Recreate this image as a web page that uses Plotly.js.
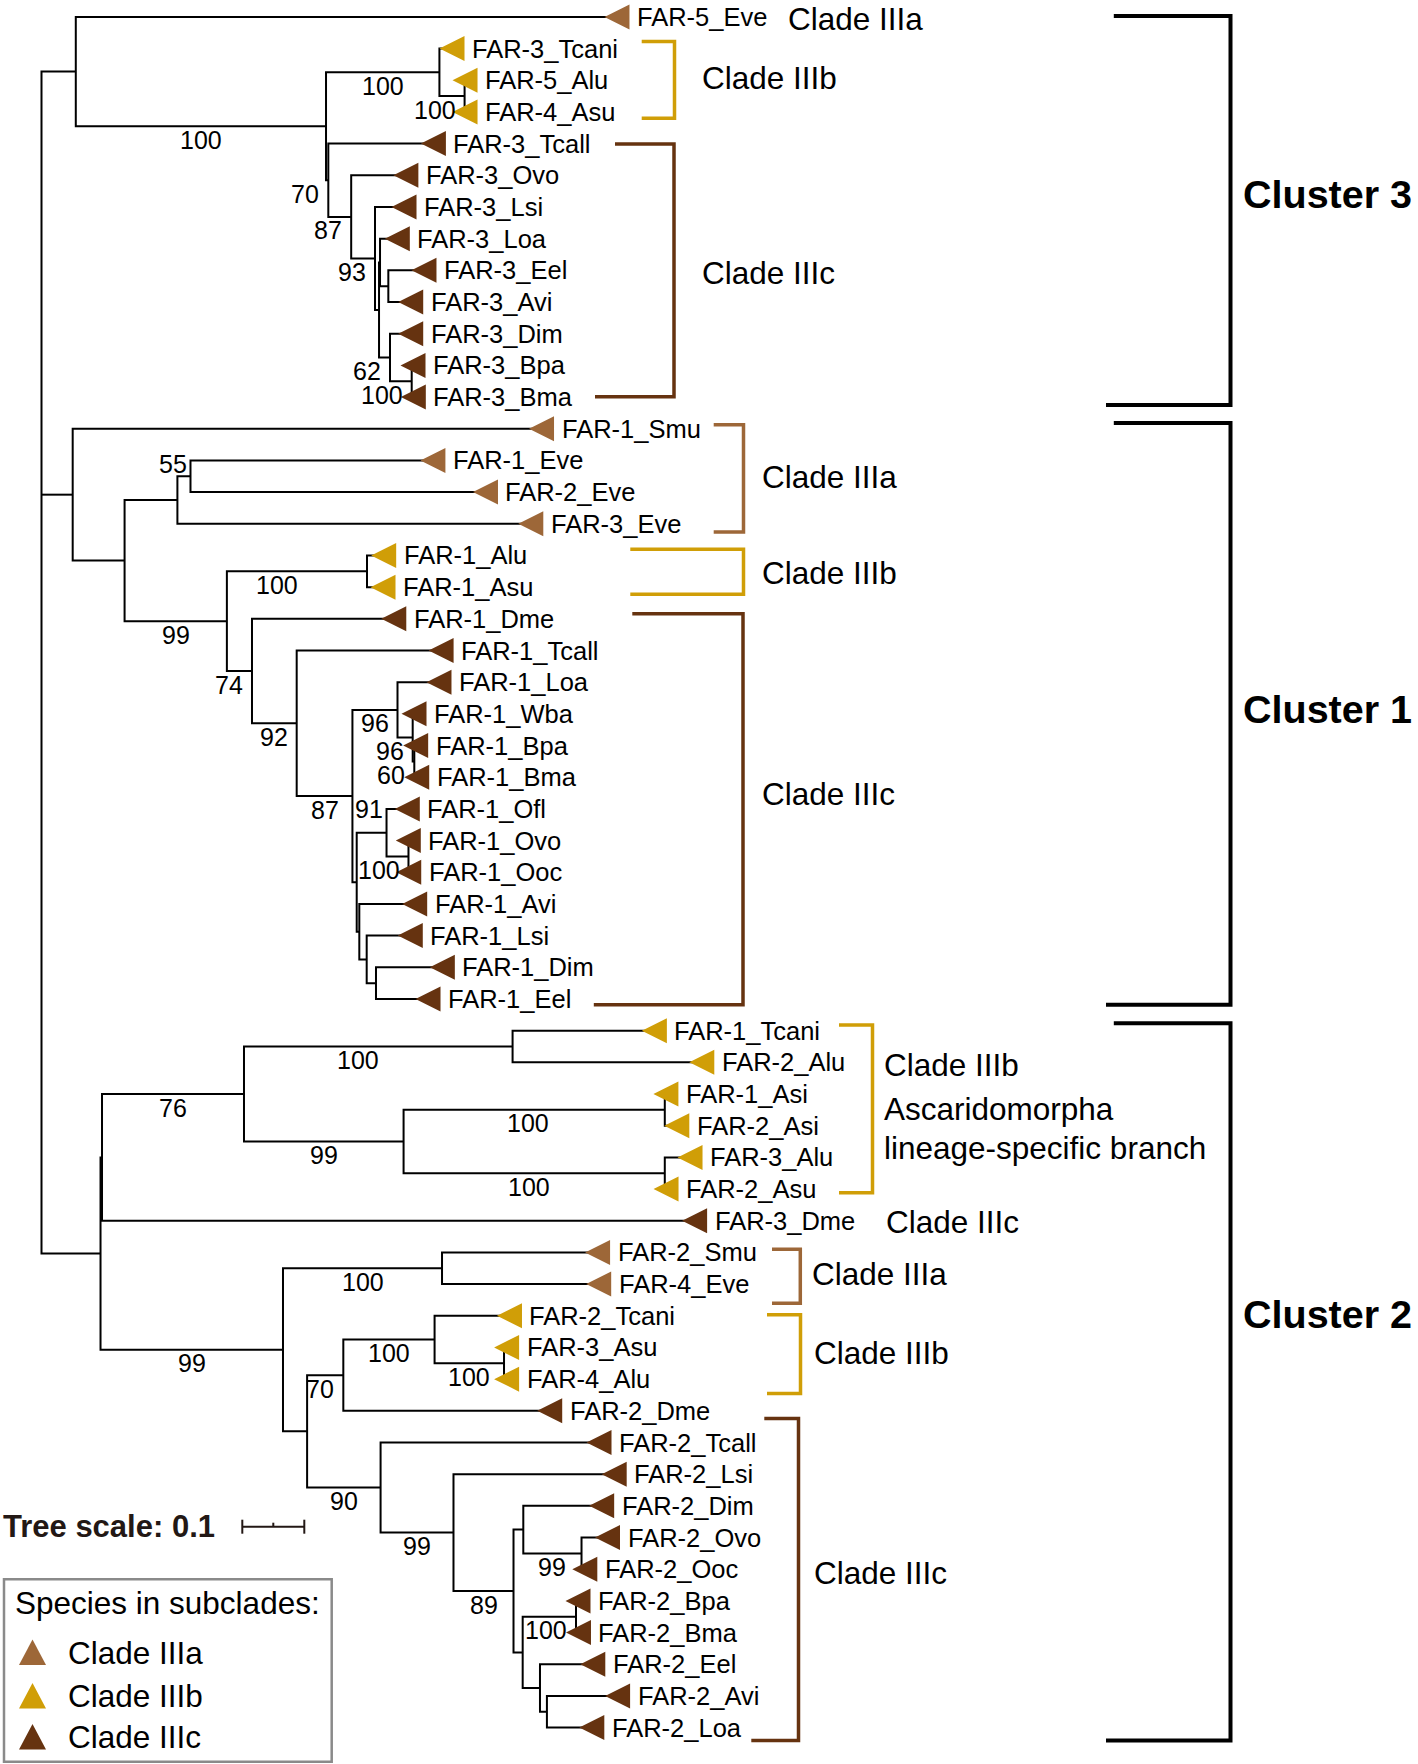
<!DOCTYPE html>
<html>
<head>
<meta charset="utf-8">
<script src="https://cdn.plot.ly/plotly-3.0.1.min.js"></script>
<style>
html,body{margin:0;padding:0;background:#fff;}
#chart{width:1418px;height:1764px;}
</style>
</head>
<body>
<div id="chart"></div>
<script>
// ===================== DATA =====================
// Leaves, top to bottom (row order of the tree)
const leafNames = ['FAR-5_Eve','FAR-3_Tcani','FAR-5_Alu','FAR-4_Asu','FAR-3_Tcall','FAR-3_Ovo','FAR-3_Lsi','FAR-3_Loa','FAR-3_Eel','FAR-3_Avi','FAR-3_Dim','FAR-3_Bpa','FAR-3_Bma',
  'FAR-1_Smu','FAR-1_Eve','FAR-2_Eve','FAR-3_Eve','FAR-1_Alu','FAR-1_Asu','FAR-1_Dme','FAR-1_Tcall','FAR-1_Loa','FAR-1_Wba','FAR-1_Bpa','FAR-1_Bma','FAR-1_Ofl','FAR-1_Ovo','FAR-1_Ooc','FAR-1_Avi','FAR-1_Lsi','FAR-1_Dim','FAR-1_Eel',
  'FAR-1_Tcani','FAR-2_Alu','FAR-1_Asi','FAR-2_Asi','FAR-3_Alu','FAR-2_Asu','FAR-3_Dme','FAR-2_Smu','FAR-4_Eve','FAR-2_Tcani','FAR-3_Asu','FAR-4_Alu','FAR-2_Dme','FAR-2_Tcall','FAR-2_Lsi','FAR-2_Dim','FAR-2_Ovo','FAR-2_Ooc','FAR-2_Bpa','FAR-2_Bma','FAR-2_Eel','FAR-2_Avi','FAR-2_Loa'];
// subclade of each leaf: a = IIIa, b = IIIb, c = IIIc
const leafClade = ['a','b','b','b','c','c','c','c','c','c','c','c','c',
  'a','a','a','a','b','b','c','c','c','c','c','c','c','c','c','c','c','c','c',
  'b','b','b','b','b','b','c','a','a','b','b','b','c','c','c','c','c','c','c','c','c','c','c'];
const leafParent = ['C3','B3b','E','E','B','C','D','F1','G','G','H','I','I',
  'C1','M','M','K','N','N','O','P','R','T','U','U','V','X','X','W','Z','AA','AA',
  'N100a','N100a','N100b','N100b','N100c','N100c','Y2','N100d','N100d','N100e','N100f','N100f','N70','N90','N99c','Q1','N99d','N99d','N100g','N100g','R2','AL','AL'];
// distance from root (substitutions / site)
const leafDepth = [0.9282,0.6621,0.6831,0.6831,0.6321,0.5877,0.5847,0.5739,0.6169,0.5955,0.5955,0.5992,0.5997,
  0.8065,0.6313,0.7161,0.7892,0.5519,0.5508,0.5682,0.6445,0.6411,0.6008,0.6035,0.6052,0.5900,0.5916,0.5923,0.6019,0.5948,0.6465,0.6234,
  0.9885,1.0650,1.0071,1.0247,1.0460,1.0073,1.0534,0.8969,0.8987,0.7548,0.7502,0.7502,0.8197,0.8992,0.9237,0.9035,0.9129,0.8763,0.8653,0.8661,0.8892,0.9292,0.8876];

// Internal nodes
const nodeNames = ['root','C3','A','B3b','E','B','C','D','F','F1','G','H','I',
  'C1','J','K','M','L','N','O','P','Q','R','T','U','S','V','X','W','Z','AA',
  'C2','Y2','N76','N100a','N99','N100b','N100c','D99','N100d','E90','N70','N100e','N100f','N90','N99c','N89','Q1','N99d','Q2','N100g','R2','AL'];
const nodeParent = [null,'root','C3','A','B3b','A','B','C','D','F','F1','F','H',
  'root','C1','J','K','J','L','L','O','P','Q','R','T','Q','S','V','S','W','Z',
  'root','C2','Y2','N76','N76','N99','N99','C2','D99','D99','E90','N70','N100e','E90','N90','N99c','N89','Q1','N89','Q2','Q2','R2'];
const nodeDepth = [0,0.0553,0.4589,0.6418,0.6824,0.4626,0.4995,0.5379,0.5444,0.5460,0.5594,0.5621,0.5971,
  0.0503,0.1340,0.2192,0.2403,0.2990,0.5250,0.3395,0.4116,0.5015,0.5742,0.5987,0.6013,0.5084,0.5565,0.5919,0.5126,0.5245,0.5395,
  0.0952,0.0976,0.3266,0.7598,0.5840,1.0053,1.0053,0.3895,0.6460,0.4284,0.4868,0.6340,0.7460,0.5469,0.6645,0.7613,0.7771,0.8710,0.7761,0.8621,0.8040,0.8152];
// bootstrap support
const nodeSupport = [null,null,100,100,100,70,87,93,null,null,null,62,100,
  null,null,null,55,99,100,74,92,87,96,96,60,null,91,100,null,null,null,
  null,null,76,100,99,100,100,99,100,null,70,100,100,90,99,89,null,99,null,100,null,null];

const cladeLegend = ['Clade IIIa','Clade IIIb','Clade IIIc'];
const legendTitle = 'Species in subclades:';
const treeScaleValue = 0.1;

// ===================== GEOMETRY / STYLE =====================
const W = 1418, H = 1764;
const ROOT_PX = 41.5, PX_PER_UNIT = 620, ROW0_PX = 16.9, ROW_PX = 31.68;
const X = px => (px - ROOT_PX) / PX_PER_UNIT;
const Y = py => (py - ROW0_PX) / ROW_PX;
const DX = px => px / PX_PER_UNIT;
const DY = py => py / ROW_PX;
const pxX = x => ROOT_PX + x * PX_PER_UNIT;
const pxY = y => ROW0_PX + y * ROW_PX;

const FONT = 'Liberation Sans, Arial, Helvetica, sans-serif';
const COLORS = {a:'#9D6738', b:'#D09E07', c:'#663310'};

// ---- build tree positions ----
const pos = {}, children = {};
nodeNames.forEach((n,i)=>{ pos[n] = {x:nodeDepth[i], y:null}; children[n] = []; });
leafNames.forEach((n,i)=>{ pos[n] = {x:leafDepth[i], y:i}; });
leafNames.forEach((n,i)=>children[leafParent[i]].push(n));
nodeNames.forEach((n,i)=>{ if(nodeParent[i]) children[nodeParent[i]].push(n); });
function yOf(n){
  if(pos[n].y !== null) return pos[n].y;
  const ys = children[n].map(yOf);
  pos[n].y = (Math.min(...ys)+Math.max(...ys))/2;
  return pos[n].y;
}
yOf('root');

// ---- branch lines ----
const lx = [], ly = [];
nodeNames.forEach(n=>{
  const ch = children[n].slice().sort((a,b)=>pos[a].y-pos[b].y);
  const p = pos[n], f = pos[ch[0]], l = pos[ch[ch.length-1]];
  lx.push(f.x, p.x, p.x, l.x, null); ly.push(f.y, f.y, l.y, l.y, null);
  ch.slice(1,-1).forEach(c=>{ lx.push(p.x, pos[c].x, null); ly.push(pos[c].y, pos[c].y, null); });
});
const traces = [{type:'scatter', x:lx, y:ly, mode:'lines', line:{color:'#000', width:2}, hoverinfo:'skip', showlegend:false}];

// ---- leaf triangles ----
const TRI = 12.5;
['a','b','c'].forEach(k=>{
  const tx=[], ty=[];
  leafNames.forEach((n,i)=>{
    if(leafClade[i]!==k) return;
    const x = leafDepth[i], y = i;
    tx.push(x-DX(TRI), x+DX(TRI), x+DX(TRI), x-DX(TRI), null);
    ty.push(y, y-DY(TRI), y+DY(TRI), y, null);
  });
  traces.push({type:'scatter', x:tx, y:ty, mode:'lines', fill:'toself', fillcolor:COLORS[k], line:{width:0, color:COLORS[k]}, hoverinfo:'skip', showlegend:false});
});

// ---- tree scale bar ----
const sbX0 = X(242.3), sbY = Y(1526.7);
traces.push({type:'scatter', mode:'lines', hoverinfo:'skip', showlegend:false, line:{color:'#231815', width:2},
  x:[sbX0, sbX0+treeScaleValue, null, sbX0, sbX0, null, sbX0+treeScaleValue, sbX0+treeScaleValue, null, sbX0+treeScaleValue/2, sbX0+treeScaleValue/2],
  y:[sbY, sbY, null, sbY-DY(7), sbY+DY(7), null, sbY-DY(7), sbY+DY(7), null, sbY, sbY-DY(4)]});

// ---- annotations ----
const annotations = [];
function ann(x, y, text, size, xa, color){
  annotations.push({x, y, xref:'x', yref:'y', text, showarrow:false, xanchor:xa||'left', yanchor:'middle',
    font:{family:FONT, size, color:color||'#000'}, borderpad:0, borderwidth:0});
}
// leaf labels
leafNames.forEach((n,i)=>ann(leafDepth[i]+DX(20), i, n, 25.5));

// bootstrap labels
const supportAbove = {M:-12, V:-24};
const supportShift = {N:-20, N100a:-20, N100b:-6, N100c:-5};
nodeNames.forEach((n,i)=>{
  const s = nodeSupport[i];
  if(s===null) return;
  const txt = String(s), w = txt.length*0.556*25;
  const px2 = pxX(nodeDepth[i]), px1 = pxX(pos[nodeParent[i]].x), py = pxY(pos[n].y);
  let cx, cy;
  if(supportAbove[n] !== undefined){ cx = px2 - 4 - w/2; cy = py + supportAbove[n]; }
  else {
    cx = (px1+px2)/2 + (supportShift[n]||0);
    if(cx + w/2 > px2 - 9) cx = px2 - 9 - w/2;
    cy = py + 13.5;
  }
  ann(X(cx), Y(cy), txt, 25, 'center');
});

// ---- clade brackets ----
const shapes = [];
const cladeBrackets = [
  {first:'FAR-3_Tcani', last:'FAR-4_Asu', k:'b', tp:-7, bp:6.4, ts:641.7, bs:641.7, vx:674.5, lx:701.7, lines:['Clade IIIb'], dy:[-2]},
  {first:'FAR-3_Tcall', last:'FAR-3_Bma', k:'c', tp:0.4, bp:-0.3, ts:615, bs:595, vx:674, lx:701.7, lines:['Clade IIIc'], dy:[3]},
  {first:'FAR-1_Smu', last:'FAR-3_Eve', k:'a', tp:-3.9, bp:8.2, ts:713.7, bs:713.7, vx:743.5, lx:761.7, lines:['Clade IIIa'], dy:[0.3]},
  {first:'FAR-1_Alu', last:'FAR-1_Asu', k:'b', tp:-6.3, bp:7.1, ts:630.3, bs:630.3, vx:743.5, lx:761.7, lines:['Clade IIIb'], dy:[1.6]},
  {first:'FAR-1_Dme', last:'FAR-1_Eel', k:'c', tp:-5.1, bp:5.7, ts:632.3, bs:593.8, vx:743, lx:761.7, lines:['Clade IIIc'], dy:[-14.6]},
  {first:'FAR-1_Tcani', last:'FAR-2_Asu', k:'b', tp:-5.7, bp:3.7, ts:839, bs:839, vx:872.5, lx:884, lines:['Clade IIIb','Ascaridomorpha','lineage-specific branch'], dy:[-45, -0.5, 38.5]},
  {first:'FAR-2_Smu', last:'FAR-4_Eve', k:'a', tp:-3.2, bp:19.2, ts:772, bs:772, vx:800.3, lx:812, lines:['Clade IIIa'], dy:[5.7]},
  {first:'FAR-2_Tcani', last:'FAR-4_Alu', k:'b', tp:-1, bp:14.3, ts:767, bs:767, vx:800.5, lx:813.9, lines:['Clade IIIb'], dy:[5.5]},
  {first:'FAR-2_Dme', last:'FAR-2_Loa', k:'c', tp:7.6, bp:12.9, ts:764.3, bs:751.3, vx:798.5, lx:813.9, lines:['Clade IIIc'], dy:[3.7]}
];
cladeBrackets.forEach(b=>{
  const r0 = leafNames.indexOf(b.first), r1 = leafNames.indexOf(b.last);
  const yt = r0 + DY(b.tp), yb = r1 + DY(b.bp);
  shapes.push({type:'path', xref:'x', yref:'y', line:{color:COLORS[b.k], width:3.5},
    path:`M ${X(b.ts)},${yt} L ${X(b.vx)},${yt} L ${X(b.vx)},${yb} L ${X(b.bs)},${yb}`});
  const ym = (r0+r1)/2;
  b.lines.forEach((t,j)=>ann(X(b.lx), ym + DY(b.dy[j]), t, 31.5));
});
const cladeTags = [
  {leaf:'FAR-5_Eve', text:'Clade IIIa', lx:787.8, dy:2.5},
  {leaf:'FAR-3_Dme', text:'Clade IIIc', lx:885.9, dy:1}
];
cladeTags.forEach(t=>ann(X(t.lx), leafNames.indexOf(t.leaf)+DY(t.dy), t.text, 31.5));

// ---- cluster brackets ----
const clusterBrackets = [
  {first:'FAR-5_Eve', last:'FAR-3_Bma', label:'Cluster 3', tp:-0.8, bp:7.9, ly:193.5},
  {first:'FAR-1_Smu', last:'FAR-1_Eel', label:'Cluster 1', tp:-5.8, bp:5.8, ly:709},
  {first:'FAR-1_Tcani', last:'FAR-2_Loa', label:'Cluster 2', tp:-7.5, bp:12.9, ly:1314}
];
clusterBrackets.forEach(c=>{
  const yt = leafNames.indexOf(c.first) + DY(c.tp), yb = leafNames.indexOf(c.last) + DY(c.bp);
  shapes.push({type:'path', xref:'x', yref:'y', line:{color:'#000', width:4},
    path:`M ${X(1113.8)},${yt} L ${X(1230.5)},${yt} L ${X(1230.5)},${yb} L ${X(1106)},${yb}`});
  ann(X(1242.5), Y(c.ly), '<b>'+c.label+'</b>', 39.5);
});

// ---- tree scale text ----
ann(X(2.9), sbY, '<b>Tree scale: '+treeScaleValue+'</b>', 31, 'left', '#231815');

// ---- legend box ----
shapes.push({type:'rect', xref:'x', yref:'y', x0:X(4), x1:X(331.7), y0:Y(1579.3), y1:Y(1761.7),
  line:{color:'#8a8a8a', width:2.5}, fillcolor:'rgba(255,255,255,0)'});
ann(X(15), Y(1603.3), legendTitle, 31.5);
const legY = [1652.5, 1696, 1737];
['a','b','c'].forEach((k,j)=>{
  const cx = 32.5, cy = legY[j];
  shapes.push({type:'path', xref:'x', yref:'y', line:{width:0}, fillcolor:COLORS[k],
    path:`M ${X(cx-13.5)},${Y(cy+12.5)} L ${X(cx+13.5)},${Y(cy+12.5)} L ${X(cx)},${Y(cy-13)} Z`});
  ann(X(68.3), Y(cy), cladeLegend[j], 31.5);
});

const layout = {
  width:W, height:H, margin:{l:0,r:0,t:0,b:0,pad:0},
  paper_bgcolor:'#fff', plot_bgcolor:'#fff', showlegend:false,
  xaxis:{range:[X(0), X(W)], visible:false, fixedrange:true},
  yaxis:{range:[Y(H), Y(0)], visible:false, fixedrange:true},
  font:{family:FONT}, annotations, shapes
};
Plotly.newPlot('chart', traces, layout, {displayModeBar:false, staticPlot:true});
</script>
</body>
</html>
